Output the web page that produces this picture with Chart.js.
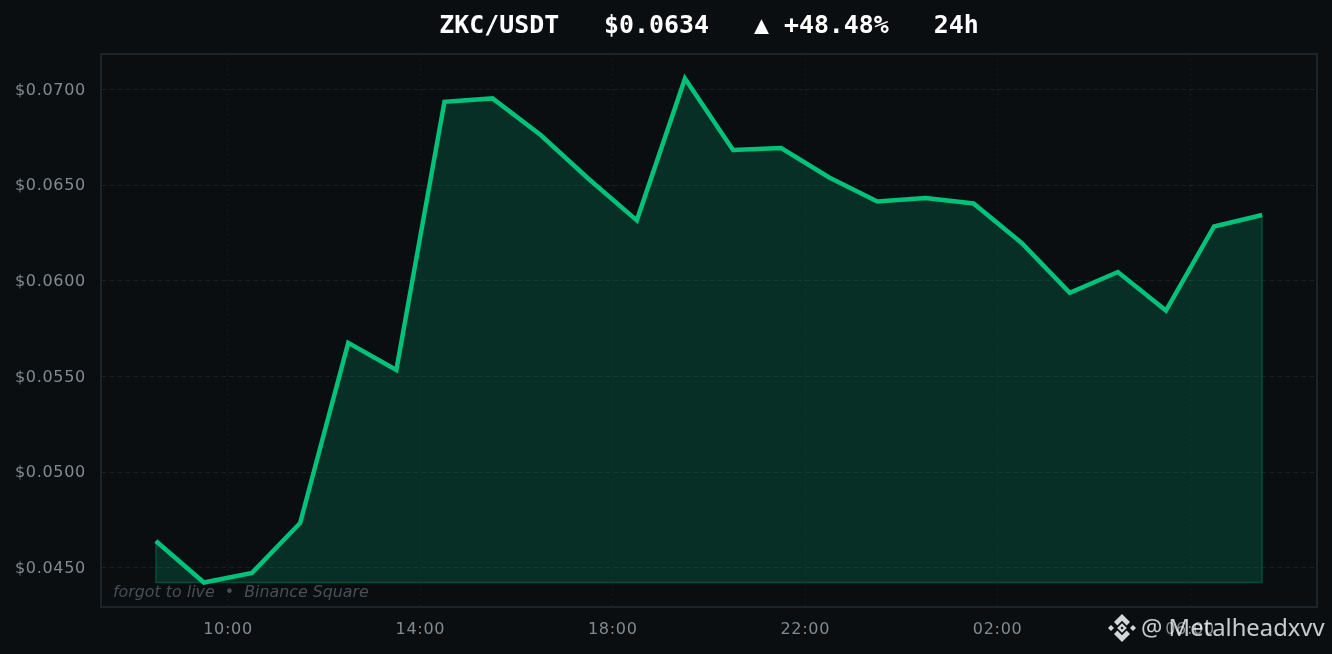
<!DOCTYPE html>
<html>
<head>
<meta charset="utf-8">
<title>ZKC/USDT</title>
<script src="https://cdn.jsdelivr.net/npm/chart.js@4/dist/chart.umd.js"></script>
<style>
  html, body { margin: 0; padding: 0; background: #0a0e11; }
  #wrap { position: relative; width: 1332px; height: 654px; overflow: hidden; }
  #priceChart { display: block; }
  .over { position: absolute; white-space: pre; }
  #headline { left: 101px; width: 1216px; top: 10px; text-align: center; color: #fff;
    font: bold 24.9px "DejaVu Sans Mono", monospace; }
  #note { left: 113px; top: 582px; color: #4a4f56;
    font: italic 15.85px "DejaVu Sans", sans-serif; }
  #credit { left: 1141px; top: 611px; color: rgba(255,255,255,0.78); font: 23.8px "Noto Sans", sans-serif; }
  #logo { left: 1107px; top: 613px; }
</style>
</head>
<body>
<div id="wrap">
  <canvas id="priceChart" width="1332" height="654"></canvas>
  <div class="over" id="headline">ZKC/USDT   $0.0634   ▲ +48.48%   24h</div>
  <div class="over" id="note">forgot to live  •  Binance Square</div>
  <svg class="over" id="logo" width="30" height="30" viewBox="0 0 30 30" fill="#d4d7d9">
    <path d="M15 1 L23 9 L19.6 12.4 L15 7.8 L10.4 12.4 L7 9 Z"/>
    <path d="M15 29 L23 21 L19.6 17.6 L15 22.2 L10.4 17.6 L7 21 Z"/>
    <path d="M1 15 L4 12 L7 15 L4 18 Z"/>
    <path d="M23 15 L26 12 L29 15 L26 18 Z"/>
    <path fill-rule="evenodd" d="M15 10.2 L19.8 15 L15 19.8 L10.2 15 Z M15 13.4 L13.4 15 L15 16.6 L16.6 15 Z"/>
  </svg>
  <div class="over" id="credit">@ Metalheadxvv</div>
</div>
<script>
// hours since 00:00 of the first day, one sample per hour
const hours = [8.5, 9.5, 10.5, 11.5, 12.5, 13.5, 14.5, 15.5, 16.5, 17.5, 18.5, 19.5,
  20.5, 21.5, 22.5, 23.5, 24.5, 25.5, 26.5, 27.5, 28.5, 29.5, 30.5, 31.5];
const prices = [0.04641, 0.04424, 0.04474, 0.04735, 0.05676, 0.05534, 0.06935, 0.06953,
  0.06762, 0.06532, 0.06316, 0.07057, 0.06684, 0.06694, 0.0654, 0.06415, 0.06433, 0.06404,
  0.06198, 0.05937, 0.06046, 0.05845, 0.06284, 0.06344];
const baseline = 0.04424;

const xTicks = [10, 14, 18, 22, 26, 30];
const xLabels = ['10:00', '14:00', '18:00', '22:00', '02:00', '06:00'];
const yTicks = [0.045, 0.05, 0.055, 0.06, 0.065, 0.07];

const last = hours.length - 1;
// thin edge round the filled area
const edge = [
  { x: hours[0], y: prices[0] },
  { x: hours[0], y: baseline },
  { x: hours[last], y: baseline },
  { x: hours[last], y: prices[last] }
];

const frame = {
  id: 'frame',
  beforeDraw(chart) {
    // tick labels are slightly tracked in the original
    chart.ctx.letterSpacing = '0.7px';
  },
  afterDatasetsDraw(chart) {
    const { ctx, chartArea: a } = chart;
    ctx.save();
    ctx.strokeStyle = '#1e2327';
    ctx.lineWidth = 2;
    ctx.strokeRect(a.left, a.top, a.right - a.left, a.bottom - a.top);
    ctx.restore();
  }
};

new Chart(document.getElementById('priceChart').getContext('2d'), {
  type: 'line',
  data: {
    datasets: [
      {
        data: edge,
        borderColor: 'rgba(0,192,118,0.28)',
        borderWidth: 1.5,
        pointRadius: 0,
        fill: false,
        order: 2
      },
      {
        data: hours.map((h, i) => ({ x: h, y: prices[i] })),
        borderColor: '#00c27a',
        borderWidth: 4.5,
        borderJoinStyle: 'miter',
        backgroundColor: 'rgba(0,192,125,0.19)',
        pointRadius: 0,
        tension: 0,
        fill: { target: { value: baseline } },
        order: 1
      }
    ]
  },
  plugins: [frame],
  options: {
    responsive: false,
    animation: false,
    layout: { padding: { top: 54, right: 15, bottom: 0, left: 0 } },
    plugins: { legend: { display: false }, tooltip: { enabled: false } },
    scales: {
      x: {
        type: 'linear',
        min: 7.36,
        max: 32.64,
        afterBuildTicks(scale) { scale.ticks = xTicks.map(v => ({ value: v })); },
        afterFit(scale) { scale.height = 47; },
        grid: { color: 'rgba(255,255,255,0.045)', lineWidth: 1, drawTicks: false },
        border: { display: false, dash: [2, 3] },
        ticks: {
          color: '#838a90',
          font: { family: '"DejaVu Sans"', size: 16 },
          padding: 13,
          maxRotation: 0,
          autoSkip: false,
          callback: v => xLabels[xTicks.indexOf(v)]
        }
      },
      y: {
        min: 0.04296,
        max: 0.07185,
        afterBuildTicks(scale) { scale.ticks = yTicks.map(v => ({ value: v })); },
        afterFit(scale) { scale.width = 101; },
        grid: { color: 'rgba(255,255,255,0.075)', lineWidth: 1, drawTicks: false },
        border: { display: false, dash: [5, 3] },
        ticks: {
          color: '#838a90',
          font: { family: '"DejaVu Sans"', size: 16 },
          padding: 15,
          labelOffset: 1,
          autoSkip: false,
          callback: v => '$' + v.toFixed(4)
        }
      }
    }
  }
});
</script>
</body>
</html>
